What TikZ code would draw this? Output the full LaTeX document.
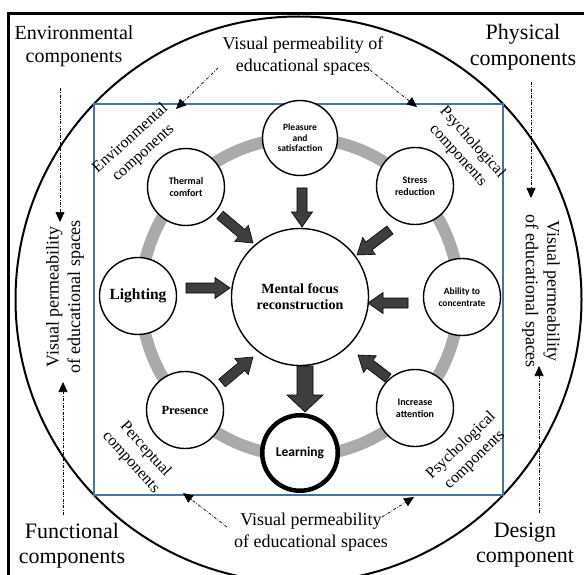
\documentclass[tikz,border=0pt]{standalone}
\usepackage{fontspec}
\setmainfont{Liberation Serif}
\newfontfamily\carl{Carlito}
\usetikzlibrary{calc,arrows.meta}
\definecolor{ringgray}{RGB}{170,170,170}
\definecolor{sqblue}{RGB}{70,115,160}
\definecolor{arrfill}{RGB}{62,62,62}
\newcommand\blockarrow[5]{%
 \filldraw[arrowstyle] ($(#1)!#3!90:(#2)$) -- ($($(#2)!#5!(#1)$)!#3!90:(#2)$) -- ($($(#2)!#5!(#1)$)!#4!90:(#2)$) -- (#2) -- ($($(#2)!#5!(#1)$)!#4!-90:(#2)$) -- ($($(#2)!#5!(#1)$)!#3!-90:(#2)$) -- ($(#1)!#3!-90:(#2)$) -- cycle;}
\begin{document}
\begin{tikzpicture}[x=1pt,y=-1pt,
  lab/.style={align=center, font=\fontsize{22}{25.5}\selectfont, inner sep=0},
  vis/.style={align=center, font=\fontsize{18}{21.5}\selectfont, inner sep=0},
  corner/.style={align=center, font=\fontsize{16}{19.5}\selectfont, inner sep=0},
  bub/.style={circle, draw, line width=1.4, fill=white, minimum size=77, inner sep=0, align=center},
  sansb/.style={font=\carl\bfseries\fontsize{10}{12}\selectfont},
  serb/.style={font=\bfseries\fontsize{14}{16}\selectfont},
  dd/.style={line width=0.7, dash pattern=on 3pt off 1.5pt on 0.7pt off 1.5pt, -{Triangle[length=10pt,width=9pt]}},
  arrowstyle/.style={fill=arrfill, draw=black, line width=0.6, line join=miter}]
\useasboundingbox (0,0) rectangle (584,575);
\clip (0,0) rectangle (584,575);
\fill[white] (0,0) rectangle (584,575);
% frame, circle, square
\draw[line width=3] (8,14) rectangle (620,620);
\draw[line width=2] (298.5,299.5) circle (283);
\draw[sqblue, line width=1.6] (94,104) rectangle (503,495);
% ring
\draw[ringgray, line width=12] (300,297) circle (159);
% outer labels
\node[lab, font=\fontsize{20}{23}\selectfont] (envc) at (74,46.5) {Environmental\\components};
\node[lab] (phys) at (523,47) {Physical\\components};
\node[lab] (func) at (72,545.5) {Functional\\components};
\node[lab] (desg) at (525,545) {Design\\component};
\node[vis] (vtop) at (303,56) {Visual permeability of\\educational spaces};
\node[vis] (vbot) at (311,532) {Visual permeability\\of educational spaces};
\node[vis, rotate=90] (vleft) at (65,297) {Visual permeability\\of educational spaces};
\node[vis, rotate=-90] (vright) at (541,291) {Visual permeability\\of educational spaces};
% corner labels
\node[corner, rotate=42] (cenv) at (137,146) {Environmental\\components};
\node[corner, rotate=-48] (cpsy1) at (465,149) {Psychological\\components};
\node[corner, rotate=-48] (cper) at (138,456) {Perceptual\\components};
\node[corner, rotate=44] (cpsy2) at (468,453) {Psychological\\components};
% dash-dot arrows
\coordinate (a1s) at (60,88);   \coordinate (a1e) at (60,222);
\coordinate (a2s) at (63,515);  \coordinate (a2e) at (63,382);
\coordinate (a3s) at (531,82);  \coordinate (a3e) at (531,198);
\coordinate (a4s) at (539,513); \coordinate (a4e) at (539,366);
\coordinate (a5s) at (218,68);  \coordinate (a5e) at (176,109);
\coordinate (a6s) at (370,70);  \coordinate (a6e) at (417,107);
\coordinate (a7s) at (227,527); \coordinate (a7e) at (183,493);
\coordinate (a8s) at (382,517); \coordinate (a8e) at (414,497);
\foreach \i in {1,...,8} {\draw[dd] (a\i s) -- (a\i e);}
% bubbles
\node[bub, serb, minimum size=137] (M) at (300,297) {Mental focus\\reconstruction};
\node[bub, sansb, font=\carl\bfseries\fontsize{9.5}{10.5}\selectfont, minimum size=75] (P) at (300,138) {Pleasure\\and\\satisfaction};
\node[bub, sansb] (T) at (186,187) {Thermal\\comfort};
\node[bub, sansb] (S) at (415,186) {Stress\\reduction};
\node[bub, serb, font=\bfseries\fontsize{15.5}{17}\selectfont] (L) at (138,296) {Lighting};
\node[bub, sansb, font=\carl\bfseries\fontsize{9.5}{11.5}\selectfont] (A) at (462,297) {Ability to\\concentrate};
\node[bub, serb, font=\bfseries\fontsize{12.5}{14}\selectfont] (Pr) at (185,410) {Presence};
\node[bub, sansb] (I) at (415,408) {Increase\\attention};
\node[bub, sansb, font=\carl\bfseries\fontsize{13.5}{15}\selectfont, line width=4.5, minimum size=75.5] (Le) at (300,453) {Learning};
% block arrows
\coordinate (b1s) at (302,188); \coordinate (b1e) at (302,227);
\coordinate (b2s) at (220,215); \coordinate (b2e) at (253,243);
\coordinate (b3s) at (390,230); \coordinate (b3e) at (357,255);
\coordinate (b4s) at (186,288); \coordinate (b4e) at (230,288);
\coordinate (b5s) at (408,303); \coordinate (b5e) at (368,303);
\coordinate (b6s) at (222,383); \coordinate (b6e) at (253,357);
\coordinate (b7s) at (388,378); \coordinate (b7e) at (358,355);
\coordinate (b8s) at (305,366); \coordinate (b8e) at (305,412);
\foreach \i in {1,...,7} {\blockarrow{b\i s}{b\i e}{5pt}{10.5pt}{15pt}}
\blockarrow{b8s}{b8e}{8pt}{18pt}{17pt}
\end{tikzpicture}
\end{document}
